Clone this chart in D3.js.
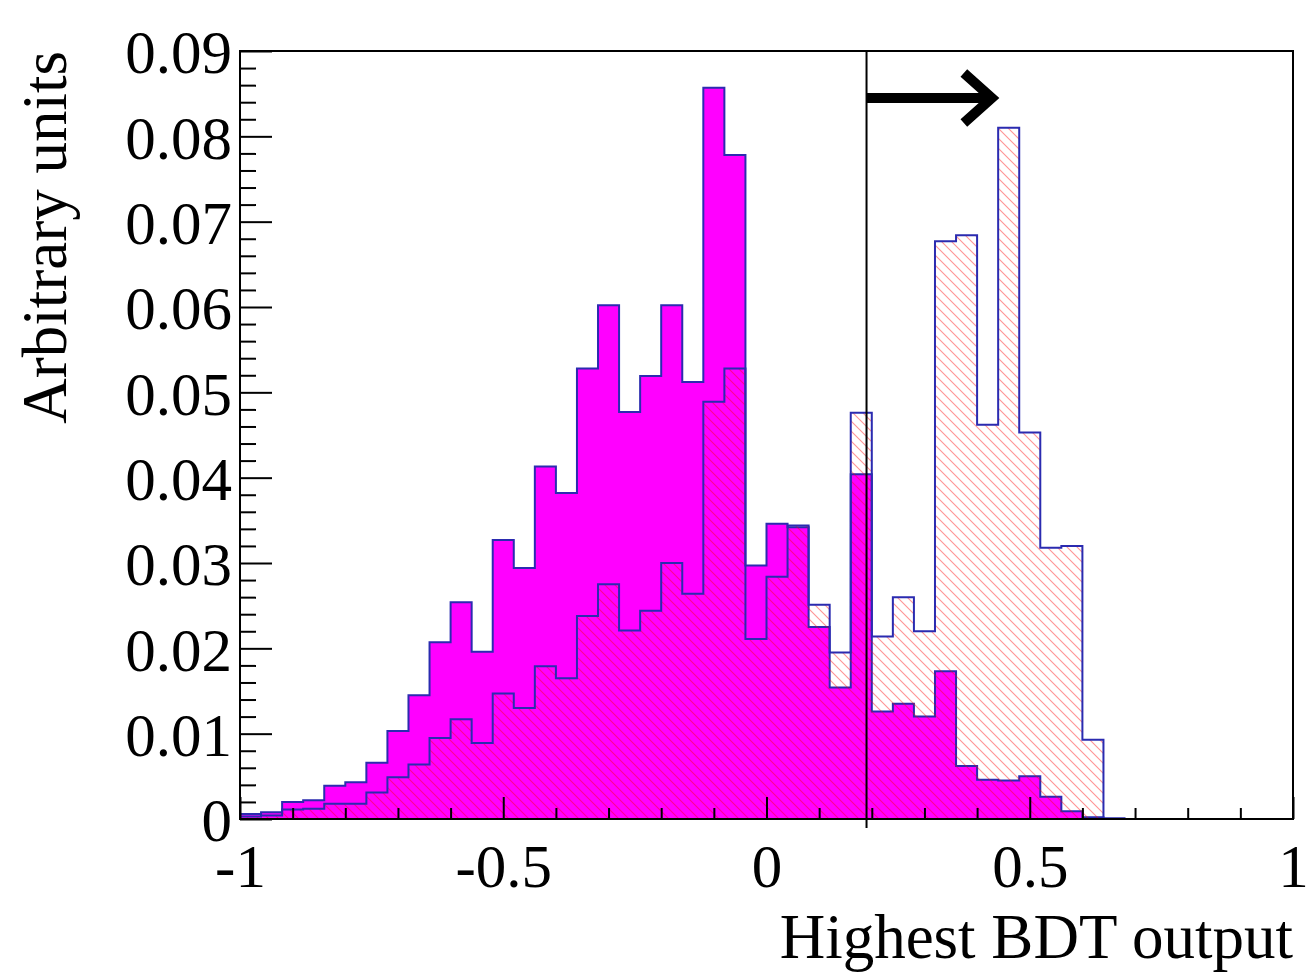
<!DOCTYPE html>
<html>
<head>
<meta charset="utf-8">
<script src="https://cdn.jsdelivr.net/npm/d3@7"></script>
<style>
  html, body { margin: 0; padding: 0; background: #ffffff; }
  svg { display: block; }
  text { font-family: "Liberation Serif", "Times New Roman", serif; fill: #000; }
</style>
</head>
<body>
<svg id="chart" width="1309" height="979"></svg>
<script>
// Histogram binning: 50 equal bins on [-1, 1]
const xRange = [-1, 1];
const nBins = 50;

// Background (filled magenta), normalised bin contents
const background = [
  0.0006, 0.0008, 0.0020, 0.0022, 0.0039, 0.0043, 0.0066, 0.0103, 0.0145, 0.0207,
  0.0254, 0.0196, 0.0327, 0.0294, 0.0413, 0.0382, 0.0528, 0.0602, 0.0477, 0.0519,
  0.0602, 0.0512, 0.0857, 0.0778, 0.0297, 0.0346, 0.0342, 0.0225, 0.0154, 0.0404,
  0.0126, 0.0135, 0.0120, 0.0173, 0.0062, 0.0046, 0.0045, 0.0050, 0.0026, 0.0009,
  0.0002, 0, 0, 0, 0, 0, 0, 0, 0, 0
];

// Signal (hatched), normalised bin contents
const signal = [
  0.0003, 0.0004, 0.0011, 0.0012, 0.0018, 0.0018, 0.0031, 0.0049, 0.0064, 0.0095,
  0.0117, 0.0089, 0.0147, 0.0130, 0.0179, 0.0165, 0.0238, 0.0275, 0.0221, 0.0244,
  0.0300, 0.0264, 0.0489, 0.0528, 0.0211, 0.0284, 0.0344, 0.0251, 0.0195, 0.0476,
  0.0214, 0.0260, 0.0220, 0.0677, 0.0684, 0.0462, 0.0810, 0.0453, 0.0318, 0.0320,
  0.0093, 0.0001, 0, 0, 0, 0, 0, 0, 0, 0
];

// Axis ticks and labels
const xMajorTicks = [-1, -0.5, 0, 0.5, 1];
const xMinorTicks = [-0.9, -0.8, -0.7, -0.6, -0.4, -0.3, -0.2, -0.1, 0.1, 0.2, 0.3, 0.4, 0.6, 0.7, 0.8, 0.9];
const yMajorTicks = [0, 0.01, 0.02, 0.03, 0.04, 0.05, 0.06, 0.07, 0.08, 0.09];
const yMinorStep = 0.002;
const xTitle = "Highest BDT output";
const yTitle = "Arbitrary units";

// Selection cut and arrow pointing to the accepted region
const cutValue = 0.19;
const arrowSpan = [0.19, 0.428];
const arrowLevel = 0.0845;

const svg = d3.select("#chart");
const x = d3.scaleLinear().domain(xRange).range([240, 1293]);
const y = d3.scaleLinear().domain([0, 0.09]).range([819, 51]);

const tickFont = 61;
const titleFont = 63;
const outline = "#2b2bb0";

// hatch pattern for the signal histogram
const defs = svg.append("defs");
const pat = defs.append("pattern")
  .attr("id", "hatch")
  .attr("patternUnits", "userSpaceOnUse")
  .attr("width", 10).attr("height", 10);
pat.append("path")
  .attr("d", "M-2.5,7.5 L2.5,12.5 M0,0 L10,10 M7.5,-2.5 L12.5,2.5")
  .attr("stroke", "#ff0000")
  .attr("stroke-opacity", 0.42)
  .attr("stroke-width", 1.1)
  .attr("fill", "none");

// step outline points of a histogram
const binWidth = (xRange[1] - xRange[0]) / nBins;
function stepPoints(values) {
  const pts = [[xRange[0], 0]];
  values.forEach((v, i) => {
    const lo = xRange[0] + i * binWidth;
    pts.push([lo, v], [lo + binWidth, v]);
  });
  pts.push([xRange[1], 0]);
  return pts;
}
const line = d3.line().x(d => x(d[0])).y(d => y(d[1]));

svg.append("path")
  .attr("d", line(stepPoints(background)) + "Z")
  .attr("fill", "#ff00ff")
  .attr("stroke", outline)
  .attr("stroke-width", 2)
  .attr("stroke-linejoin", "miter");

svg.append("path")
  .attr("d", line(stepPoints(signal)) + "Z")
  .attr("fill", "url(#hatch)")
  .attr("stroke", outline)
  .attr("stroke-width", 2)
  .attr("stroke-linejoin", "miter");

// x axis: major ticks with labels, minor ticks
const xAxisG = svg.append("g").attr("transform", `translate(0,${y(0)})`);
xAxisG.call(d3.axisBottom(x).tickValues(xMajorTicks).tickSize(-22).tickPadding(25)
  .tickFormat(d => String(d)));
xAxisG.append("g").call(d3.axisBottom(x).tickValues(xMinorTicks).tickSize(-11).tickFormat(""));
xAxisG.selectAll("path.domain").remove();
xAxisG.selectAll("line").attr("stroke", "#000").attr("stroke-width", 2);
xAxisG.selectAll("text").style("font-size", tickFont + "px").attr("fill", "#000");

// y axis: major ticks with labels, minor ticks
const yMinorTicks = d3.range(0, 0.0901, yMinorStep).filter(v => Math.abs(v * 100 - Math.round(v * 100)) > 1e-6);
const yAxisG = svg.append("g").attr("transform", `translate(${x(xRange[0])},0)`);
yAxisG.call(d3.axisLeft(y).tickValues(yMajorTicks).tickSize(-32).tickPadding(8)
  .tickFormat(d => d === 0 ? "0" : d3.format(".2f")(d)));
yAxisG.append("g").call(d3.axisLeft(y).tickValues(yMinorTicks).tickSize(-16).tickFormat(""));
yAxisG.selectAll("path.domain").remove();
yAxisG.selectAll("line").attr("stroke", "#000").attr("stroke-width", 2);
yAxisG.selectAll("text").style("font-size", tickFont + "px").attr("fill", "#000").attr("dy", "0.36em");

// frame
svg.append("rect")
  .attr("x", x(xRange[0])).attr("y", y(0.09))
  .attr("width", x(xRange[1]) - x(xRange[0]))
  .attr("height", y(0) - y(0.09))
  .attr("fill", "none").attr("stroke", "#000").attr("stroke-width", 2);

// cut line
svg.append("line")
  .attr("x1", x(cutValue)).attr("x2", x(cutValue))
  .attr("y1", y(0.09)).attr("y2", y(0) + 9)
  .attr("stroke", "#000").attr("stroke-width", 2);

// arrow
const ax0 = x(arrowSpan[0]), ax1 = x(arrowSpan[1]), ay = y(arrowLevel);
svg.append("line")
  .attr("x1", ax0).attr("x2", ax1).attr("y1", ay).attr("y2", ay)
  .attr("stroke", "#000").attr("stroke-width", 10);
svg.append("path")
  .attr("d", `M${ax1 - 28},${ay - 25} L${ax1},${ay} L${ax1 - 28},${ay + 25}`)
  .attr("fill", "none").attr("stroke", "#000").attr("stroke-width", 10)
  .attr("stroke-linejoin", "miter").attr("stroke-miterlimit", 4);

// axis titles
svg.append("text")
  .attr("x", x(xRange[1])).attr("y", 958)
  .attr("text-anchor", "end")
  .style("font-size", titleFont + "px")
  .text(xTitle);

svg.append("text")
  .attr("transform", `translate(66,${y(0.09)}) rotate(-90)`)
  .attr("text-anchor", "end")
  .style("font-size", titleFont + "px")
  .text(yTitle);
</script>
</body>
</html>
